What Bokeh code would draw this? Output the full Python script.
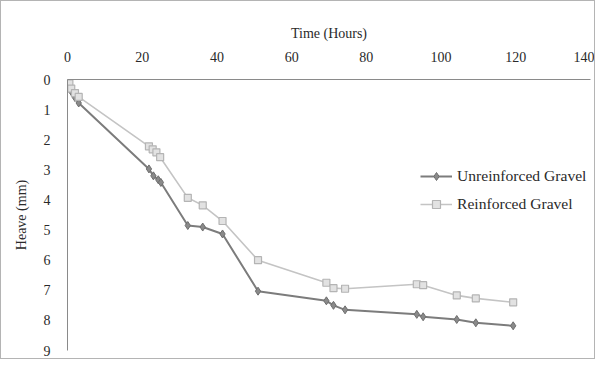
from bokeh.plotting import figure
from bokeh.models import Range1d, Legend, LegendItem, FixedTicker
from bokeh.embed import file_html
from bokeh.resources import INLINE

# Data
time_unreinforced = [0, 0.5, 1, 2, 3, 21.8, 23, 24.3, 25, 32.2, 36.2, 41.5, 51, 69.3, 71.2, 74.3, 93.5, 95.2, 104.2, 109.3, 119.3]
heave_unreinforced = [0, 0.2, 0.4, 0.6, 0.78, 2.97, 3.2, 3.33, 3.42, 4.85, 4.9, 5.13, 7.03, 7.35, 7.5, 7.65, 7.8, 7.88, 7.97, 8.08, 8.18]

time_reinforced = [0, 0.5, 1, 2, 3, 21.8, 22.8, 23.8, 24.8, 32.2, 36.2, 41.5, 51, 69.3, 71.2, 74.3, 93.5, 95.2, 104.2, 109.3, 119.3]
heave_reinforced = [0, 0.13, 0.3, 0.45, 0.58, 2.22, 2.32, 2.42, 2.58, 3.93, 4.18, 4.7, 6.0, 6.75, 6.93, 6.95, 6.8, 6.83, 7.17, 7.27, 7.4]

x_ticks = [0, 20, 40, 60, 80, 100, 120, 140]
y_ticks = [0, 1, 2, 3, 4, 5, 6, 7, 8, 9]

FONT = "Liberation Serif"
TXT = "#2a2a2a"

p = figure(width=595, height=359, output_backend="svg", toolbar_location=None,
           x_axis_location="above",
           x_range=Range1d(0, 140), y_range=Range1d(9, 0),
           min_border_left=66, min_border_top=78, min_border_right=6, min_border_bottom=10)

p.styles = {"border": "1px solid #b4b4b4"}
p.outline_line_color = None
p.xgrid.visible = False
p.ygrid.visible = False

for ax in (p.xaxis[0], p.yaxis[0]):
    ax.major_tick_line_color = None
    ax.minor_tick_line_color = None
    ax.axis_line_color = "#8a8a8a"
    ax.axis_line_width = 1
    ax.major_label_text_font = FONT
    ax.major_label_text_font_size = "14px"
    ax.major_label_text_color = TXT
    ax.axis_label_text_font = FONT
    ax.axis_label_text_font_size = "14px"
    ax.axis_label_text_font_style = "normal"
    ax.axis_label_text_color = TXT

p.xaxis.ticker = FixedTicker(ticks=x_ticks)
p.yaxis.ticker = FixedTicker(ticks=y_ticks)
p.xaxis.axis_label = "Time (Hours)"
p.yaxis.axis_label = "Heave (mm)"
p.xaxis.major_label_standoff = 12
p.xaxis.axis_label_standoff = 8
p.yaxis.major_label_standoff = 11
p.yaxis.axis_label_standoff = 12

r1l = p.line(time_unreinforced, heave_unreinforced, line_color="#7c7c7c", line_width=2)
r1m = p.scatter(time_unreinforced, heave_unreinforced, marker="diamond", size=8,
                fill_color="#8a8a8a", line_color="#6e6e6e")
r2l = p.line(time_reinforced, heave_reinforced, line_color="#c4c4c4", line_width=1.6)
r2m = p.scatter(time_reinforced, heave_reinforced, marker="square", size=7,
                fill_color="#e2e2e2", line_color="#b4b4b4", line_width=1.2)

legend = Legend(items=[
    LegendItem(label="Unreinforced Gravel", renderers=[r1l, r1m]),
    LegendItem(label="Reinforced Gravel", renderers=[r2l, r2m]),
], location=(353, 136))
legend.label_text_font = FONT
legend.label_text_font_size = "15.6px"
legend.label_text_color = TXT
legend.border_line_color = None
legend.background_fill_alpha = 0
legend.glyph_width = 32
legend.spacing = 8
legend.label_standoff = 5
p.add_layout(legend, "center")

open("out.html", "w").write(file_html(p, INLINE))
